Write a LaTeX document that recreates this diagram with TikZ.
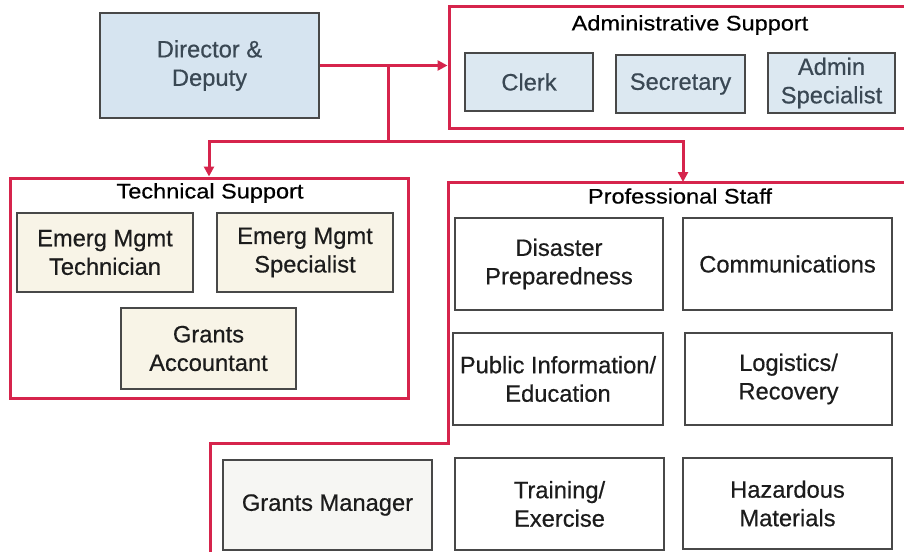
\documentclass[tikz,border=0pt]{standalone}
\usepackage{fontspec}
\setmainfont[FakeBold=0.5]{Liberation Sans}
\newfontfamily\titlefont[FakeStretch=1.12,FakeBold=0.5]{Liberation Sans}
\usetikzlibrary{arrows.meta}
\definecolor{orgred}{RGB}{214,36,76}
\definecolor{boxline}{RGB}{72,72,72}
\definecolor{bluefill}{RGB}{214,228,240}
\definecolor{admfill}{RGB}{220,232,241}
\definecolor{creamfill}{RGB}{248,244,231}
\definecolor{grayfill}{RGB}{246,246,243}
\definecolor{bluetext}{RGB}{58,72,84}
\definecolor{bodytext}{RGB}{28,28,28}
\begin{document}
\begin{tikzpicture}[x=1pt,y=-1pt,
  box/.style={draw=boxline, line width=1.3pt, rectangle, align=center, inner sep=0pt,
    text=bodytext, font=\fontsize{23.7}{28.5}\selectfont},
  bluebox/.style={box, fill=admfill, text=bluetext},
  creambox/.style={box, fill=creamfill},
  container/.style={draw=orgred, line width=3pt, rectangle, inner sep=0pt},
  ttl/.style={font=\titlefont\fontsize{21}{24}\selectfont, text=black, inner sep=0pt},
  link/.style={draw=orgred, line width=3pt},
  arr/.style={link, -{Triangle[length=10pt,width=10pt]}}]
\useasboundingbox (0,0) rectangle (904,551);
\clip (0,0) rectangle (904,551);
\fill[white] (0,0) rectangle (904,551);

% Director
\node[bluebox, fill=bluefill, minimum width=219pt, minimum height=105pt] (dir) at (209.5,65.5) {Director \&\\Deputy};

% Administrative Support
\node[container, minimum width=466pt, minimum height=121pt] (adm) at (682,67.5) {};
\node[ttl] (admt) at (690,25) {Administrative Support};
\node[bluebox, minimum width=128pt, minimum height=58pt] (clerk) at (529,82) {Clerk};
\node[bluebox, minimum width=129pt, minimum height=58pt] (sec) at (680.5,84) {Secretary};
\node[bluebox, minimum width=127pt, minimum height=60pt] (asp) at (831.5,83) {Admin\\Specialist};

% Technical Support
\node[container, minimum width=398pt, minimum height=220pt] (tech) at (209,288) {};
\node[ttl] (techt) at (210,193) {Technical Support};
\node[creambox, minimum width=176pt, minimum height=79pt] (emt) at (105,252.5) {Emerg Mgmt\\Technician};
\node[creambox, minimum width=176pt, minimum height=79pt] (ems) at (305,252.5) {Emerg Mgmt\\Specialist};
\node[creambox, minimum width=175pt, minimum height=81pt] (ga) at (208.5,348.5) {Grants\\Accountant};

% Professional Staff
\coordinate (proftop) at (683,182);
\coordinate (pA) at (915,182);
\coordinate (pB) at (448,182);
\coordinate (pC) at (448,443);
\coordinate (pD) at (210,443);
\coordinate (pE) at (210,560);
\draw[link] (pA) -- (pB) -- (pC) -- (pD) -- (pE);
\node[ttl] (proft) at (680,196) {Professional Staff};
\node[box, fill=white, minimum width=208pt, minimum height=92pt] (dp) at (559,264) {Disaster\\Preparedness};
\node[box, fill=white, minimum width=209pt, minimum height=92pt] (com) at (787.5,264) {Communications};
\node[box, fill=white, minimum width=210pt, minimum height=92pt] (pie) at (558,379) {Public Information/\\Education};
\node[box, fill=white, minimum width=207pt, minimum height=92pt] (lr) at (788.5,379) {Logistics/\\Recovery};
\node[box, fill=grayfill, minimum width=209pt, minimum height=90pt] (gm) at (327.5,505) {Grants Manager};
\node[box, fill=white, minimum width=209pt, minimum height=92pt] (te) at (559.5,504) {Training/\\Exercise};
\node[box, fill=white, minimum width=209pt, minimum height=91pt] (hm) at (787.5,503.5) {Hazardous\\Materials};

% Connectors
\coordinate (split) at (388,141);
\draw[arr] (dir.east) -- (dir.east -| adm.west);
\draw[link] (split) -- (split |- dir.east);
\draw[arr] (split) -| (tech.north);
\draw[arr] (split) -| (proftop);
\end{tikzpicture}
\end{document}
